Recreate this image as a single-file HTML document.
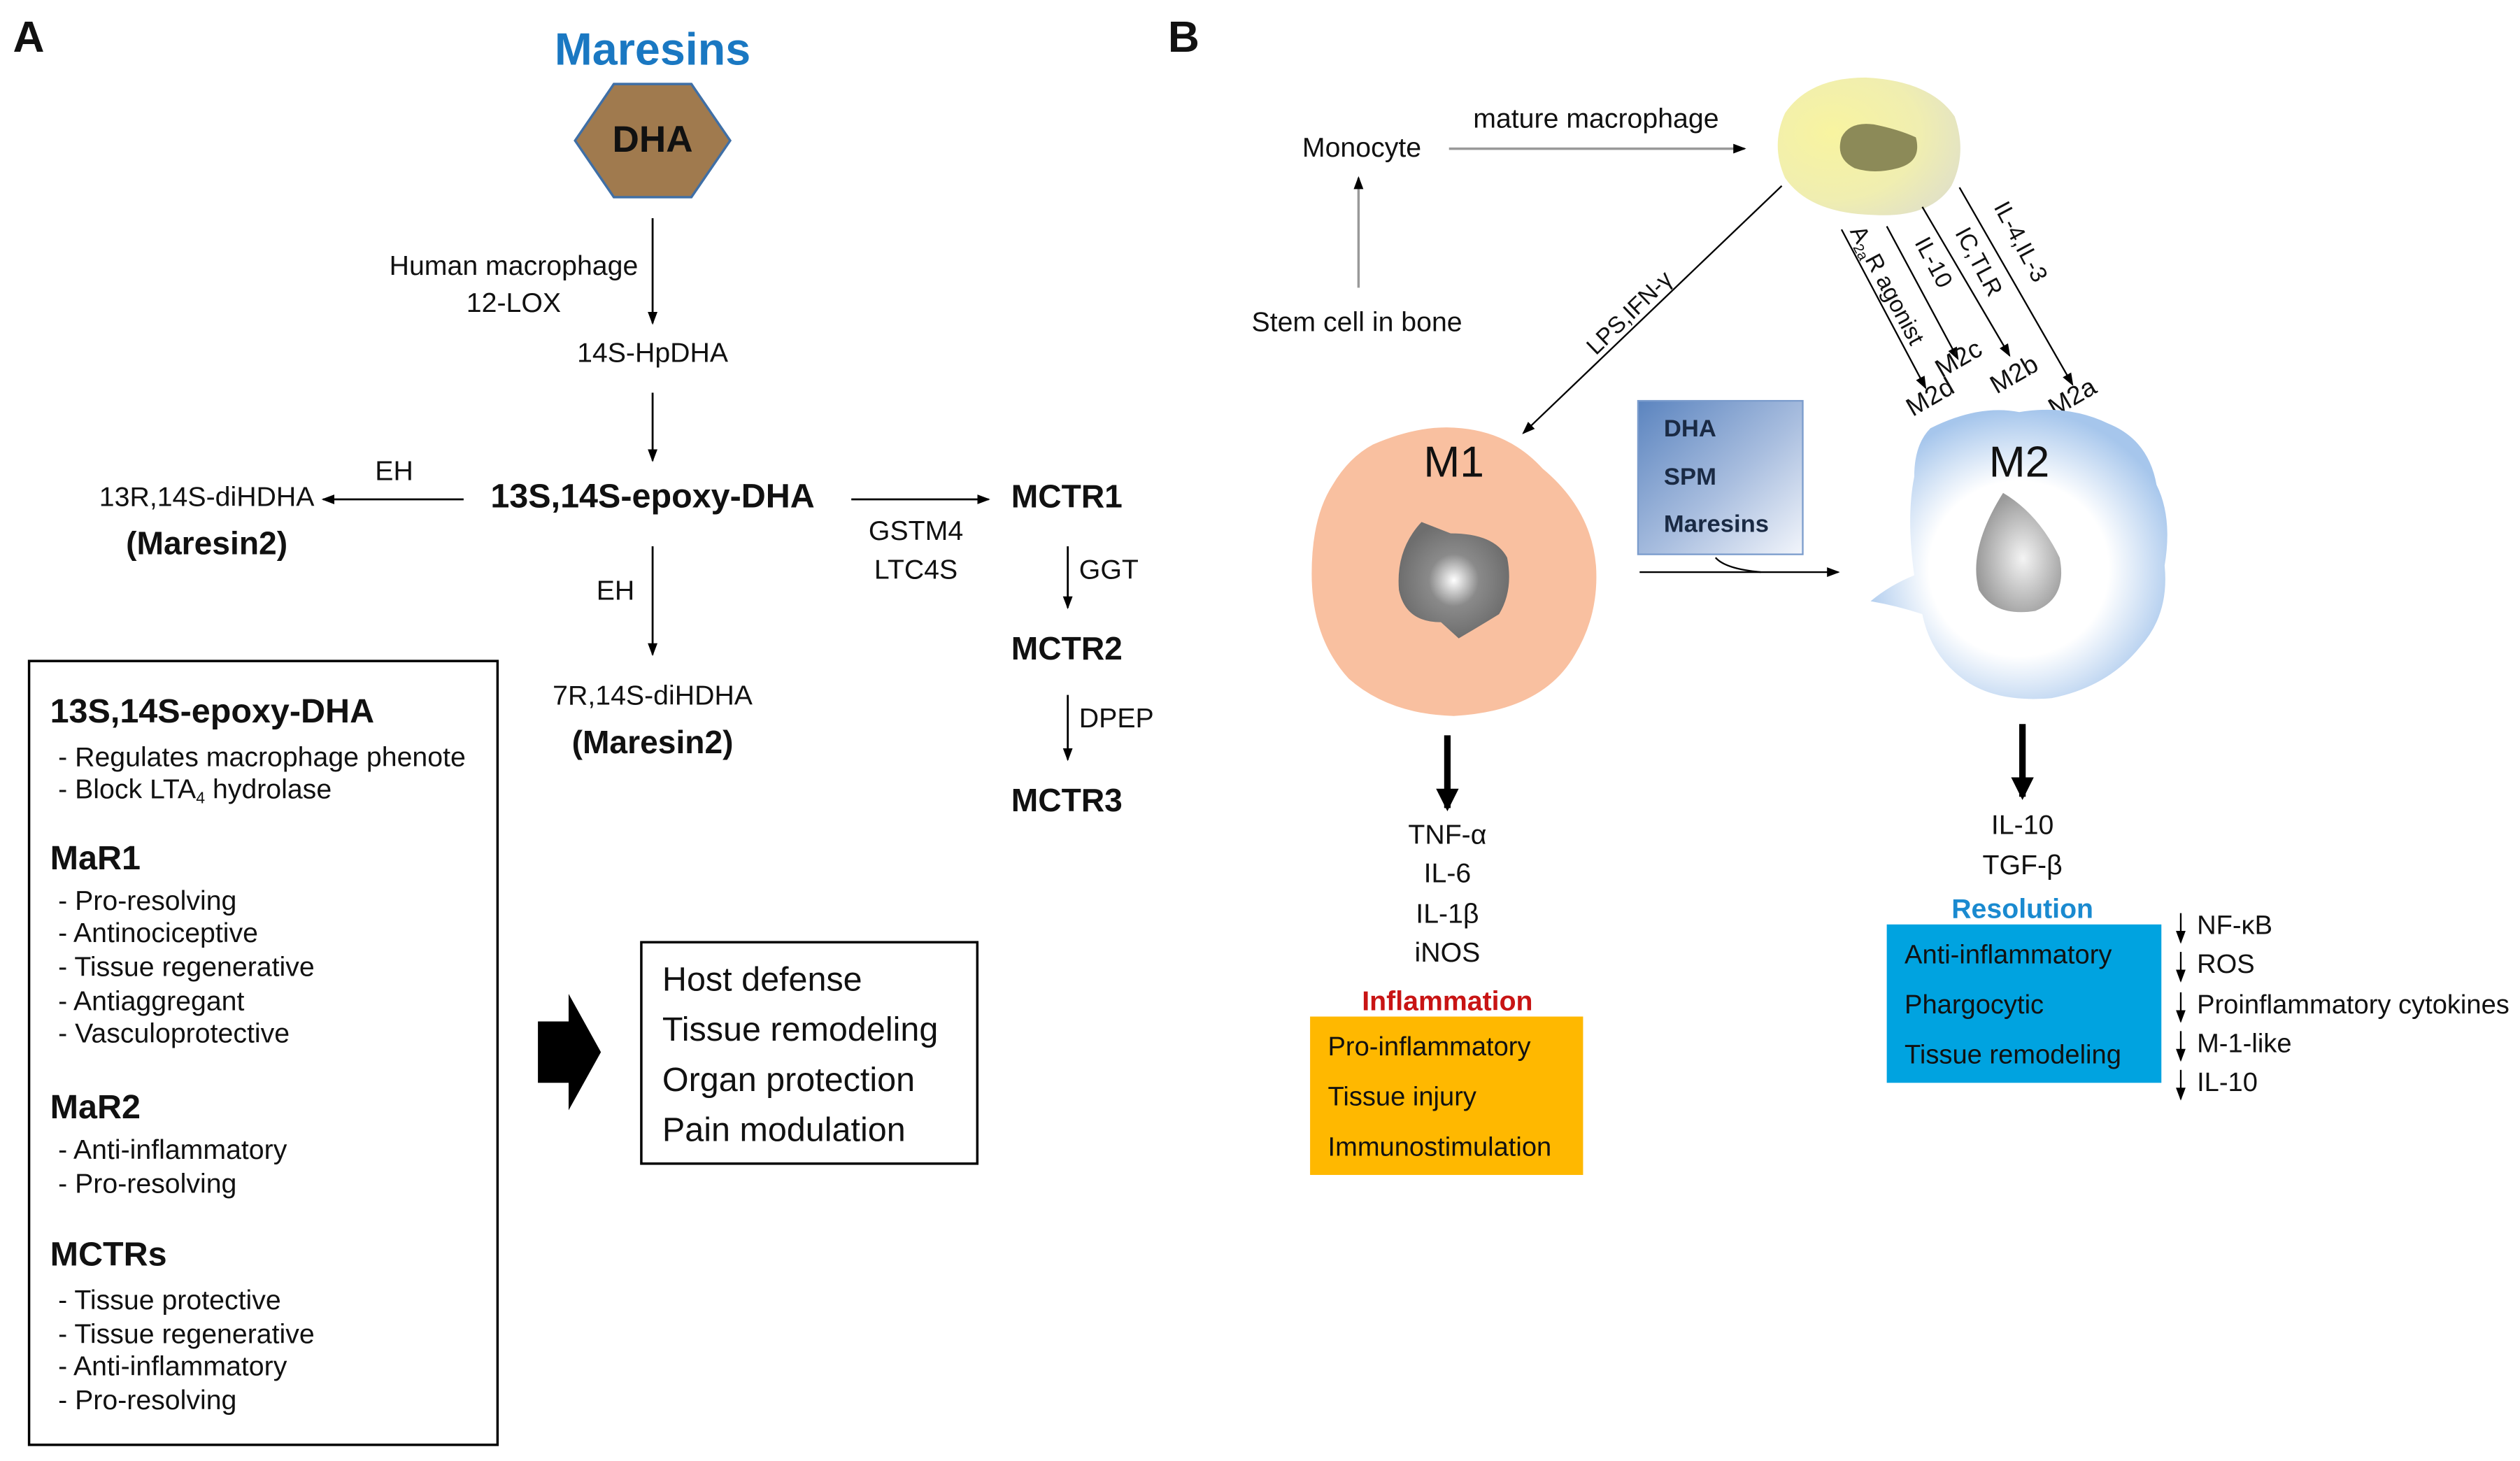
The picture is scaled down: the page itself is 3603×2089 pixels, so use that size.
<!DOCTYPE html>
<html><head><meta charset="utf-8"><style>
html,body{margin:0;padding:0;background:#fff}
svg{display:block}
text{font-family:"Liberation Sans",Arial,sans-serif;fill:#111}
</style></head><body>
<svg width="3603" height="2089" viewBox="0 0 1560 904" preserveAspectRatio="none" xmlns="http://www.w3.org/2000/svg">
<defs>
<marker id="ah" markerWidth="8" markerHeight="8" refX="7" refY="4" orient="auto" markerUnits="userSpaceOnUse"><path d="M0,1 L8,4 L0,7 z" fill="#000"/></marker>
<marker id="ahg" markerWidth="8" markerHeight="8" refX="7" refY="4" orient="auto" markerUnits="userSpaceOnUse"><path d="M0,1 L8,4 L0,7 z" fill="#000"/></marker>
<marker id="ahb" markerWidth="14" markerHeight="14" refX="12" refY="7" orient="auto" markerUnits="userSpaceOnUse"><path d="M0,0 L14,7 L0,14 z" fill="#000"/></marker>
<radialGradient id="yc" cx="0.3" cy="0.4" r="0.8"><stop offset="0" stop-color="#f8f4a0"/><stop offset="0.6" stop-color="#f0eeb0"/><stop offset="1" stop-color="#e0e0c8"/></radialGradient>
<radialGradient id="nuc1" cx="0.5" cy="0.5" r="0.5"><stop offset="0" stop-color="#fff"/><stop offset="0.45" stop-color="#8a8a8a"/><stop offset="1" stop-color="#6e6e6e"/></radialGradient>
<radialGradient id="m2g" cx="0.5" cy="0.55" r="0.55"><stop offset="0" stop-color="#fff"/><stop offset="0.55" stop-color="#fff"/><stop offset="1" stop-color="#a6c6ec"/></radialGradient>
<radialGradient id="nuc2" cx="0.55" cy="0.55" r="0.55"><stop offset="0" stop-color="#f4f4f4"/><stop offset="1" stop-color="#9a9a9a"/></radialGradient>
<linearGradient id="boxg" x1="0" y1="0" x2="1" y2="1"><stop offset="0" stop-color="#5b84bf"/><stop offset="0.55" stop-color="#a9bedf"/><stop offset="1" stop-color="#f2f5fb"/></linearGradient>
</defs>

<!-- Panel A -->
<text x="8" y="32" font-size="27" font-weight="bold">A</text>
<text x="404" y="40" font-size="28" font-weight="bold" text-anchor="middle" style="fill:#1a78c2">Maresins</text>
<polygon points="356,87 380,52 428,52 452,87 428,122 380,122" fill="#a07a4e" stroke="#3f6fa6" stroke-width="1.5"/>
<text x="404" y="94" font-size="23" font-weight="bold" text-anchor="middle">DHA</text>
<line x1="404" y1="135" x2="404" y2="200" stroke="#000" stroke-width="1.2" marker-end="url(#ah)"/>
<text x="318" y="170" font-size="17" text-anchor="middle">Human macrophage</text>
<text x="318" y="193" font-size="17" text-anchor="middle">12-LOX</text>
<text x="404" y="224" font-size="17" text-anchor="middle">14S-HpDHA</text>
<line x1="404" y1="243" x2="404" y2="285" stroke="#000" stroke-width="1.2" marker-end="url(#ah)"/>
<text x="404" y="314" font-size="21" font-weight="bold" text-anchor="middle">13S,14S-epoxy-DHA</text>
<line x1="287" y1="309" x2="200" y2="309" stroke="#000" stroke-width="1.2" marker-end="url(#ah)"/>
<text x="244" y="297" font-size="17" text-anchor="middle">EH</text>
<text x="128" y="313" font-size="17" text-anchor="middle">13R,14S-diHDHA</text>
<text x="128" y="343" font-size="20" font-weight="bold" text-anchor="middle">(Maresin2)</text>
<line x1="527" y1="309" x2="612" y2="309" stroke="#000" stroke-width="1.2" marker-end="url(#ah)"/>
<text x="626" y="314" font-size="20" font-weight="bold">MCTR1</text>
<text x="567" y="334" font-size="17" text-anchor="middle">GSTM4</text>
<text x="567" y="358" font-size="17" text-anchor="middle">LTC4S</text>
<line x1="404" y1="338" x2="404" y2="405" stroke="#000" stroke-width="1.2" marker-end="url(#ah)"/>
<text x="381" y="371" font-size="17" text-anchor="middle">EH</text>
<text x="404" y="436" font-size="17" text-anchor="middle">7R,14S-diHDHA</text>
<text x="404" y="466" font-size="20" font-weight="bold" text-anchor="middle">(Maresin2)</text>
<line x1="661" y1="338" x2="661" y2="376" stroke="#000" stroke-width="1.2" marker-end="url(#ah)"/>
<text x="668" y="358" font-size="17">GGT</text>
<text x="626" y="408" font-size="20" font-weight="bold">MCTR2</text>
<line x1="661" y1="430" x2="661" y2="470" stroke="#000" stroke-width="1.2" marker-end="url(#ah)"/>
<text x="668" y="450" font-size="17">DPEP</text>
<text x="626" y="502" font-size="20" font-weight="bold">MCTR3</text>

<rect x="18" y="409" width="290" height="485" fill="none" stroke="#000" stroke-width="1.5"/>
<g font-size="17">
<text x="31" y="447" font-size="21" font-weight="bold">13S,14S-epoxy-DHA</text>
<text x="36" y="474">- Regulates macrophage phenote</text>
<text x="36" y="494">- Block LTA<tspan font-size="10" dy="3">4</tspan><tspan dy="-3"> hydrolase</tspan></text>
<text x="31" y="538" font-size="21" font-weight="bold">MaR1</text>
<text x="36" y="563">- Pro-resolving</text>
<text x="36" y="583">- Antinociceptive</text>
<text x="36" y="604">- Tissue regenerative</text>
<text x="36" y="625">- Antiaggregant</text>
<text x="36" y="645">- Vasculoprotective</text>
<text x="31" y="692" font-size="21" font-weight="bold">MaR2</text>
<text x="36" y="717">- Anti-inflammatory</text>
<text x="36" y="738">- Pro-resolving</text>
<text x="31" y="783" font-size="21" font-weight="bold">MCTRs</text>
<text x="36" y="810">- Tissue protective</text>
<text x="36" y="831">- Tissue regenerative</text>
<text x="36" y="851">- Anti-inflammatory</text>
<text x="36" y="872">- Pro-resolving</text>
</g>
<polygon points="333,632 352,632 352,615 372,651 352,687 352,670 333,670" fill="#000"/>
<rect x="397" y="583" width="208" height="137" fill="none" stroke="#000" stroke-width="1.5"/>
<g font-size="21">
<text x="410" y="613">Host defense</text>
<text x="410" y="644">Tissue remodeling</text>
<text x="410" y="675">Organ protection</text>
<text x="410" y="706">Pain modulation</text>
</g>

<!-- Panel B -->
<text x="723" y="32" font-size="27" font-weight="bold">B</text>
<text x="843" y="97" font-size="17" text-anchor="middle">Monocyte</text>
<line x1="897" y1="92" x2="1080" y2="92" stroke="#999" stroke-width="1.5" marker-end="url(#ahg)"/>
<text x="988" y="79" font-size="17" text-anchor="middle">mature macrophage</text>
<line x1="841" y1="178" x2="841" y2="110" stroke="#999" stroke-width="1.5" marker-end="url(#ahg)"/>
<text x="840" y="205" font-size="17" text-anchor="middle">Stem cell in bone</text>

<path d="M1105,70 Q1120,48 1155,48 Q1195,50 1210,72 Q1218,95 1208,115 Q1195,135 1160,133 Q1120,132 1105,110 Q1096,90 1105,70z" fill="url(#yc)"/>
<path d="M1140,85 Q1145,75 1160,77 Q1175,80 1186,85 Q1190,100 1175,104 Q1160,108 1148,104 Q1136,98 1140,85z" fill="#8c8a58"/>

<line x1="1103" y1="115" x2="943" y2="268" stroke="#000" stroke-width="1" marker-end="url(#ah)"/>
<text transform="translate(1012,197) rotate(-44)" font-size="14.5" text-anchor="middle">LPS,IFN-γ</text>

<g stroke="#000" stroke-width="1">
<line x1="1140" y1="142" x2="1192" y2="240" marker-end="url(#ah)"/>
<line x1="1168" y1="140" x2="1212" y2="222" marker-end="url(#ah)"/>
<line x1="1190" y1="128" x2="1244" y2="220" marker-end="url(#ah)"/>
<line x1="1213" y1="116" x2="1283" y2="238" marker-end="url(#ah)"/>
</g>
<g font-size="14.5">
<text transform="translate(1145,143) rotate(62)">A<tspan font-size="9" dy="3">2a</tspan><tspan dy="-3">R agonist</tspan></text>
<text transform="translate(1185,150) rotate(62)">IL-10</text>
<text transform="translate(1210,144) rotate(62)">IC,TLR</text>
<text transform="translate(1234,128) rotate(62)">IL-4,IL-3</text>
<text transform="translate(1184,258) rotate(-30)" font-size="16">M2d</text>
<text transform="translate(1202,234) rotate(-30)" font-size="16">M2c</text>
<text transform="translate(1236,244) rotate(-30)" font-size="16">M2b</text>
<text transform="translate(1272,258) rotate(-30)" font-size="16">M2a</text>
</g>

<!-- M1 -->
<path d="M850,275 Q880,262 905,265 Q935,268 955,290 Q985,315 988,350 Q990,380 975,405 Q955,440 900,443 Q860,442 835,420 Q812,395 812,355 Q812,320 825,300 Q835,283 850,275z" fill="#f9c0a0"/>
<text x="900" y="295" font-size="27" text-anchor="middle">M1</text>
<path d="M880,323 L898,330 Q925,330 933,345 Q937,365 928,380 Q915,388 903,395 L892,385 Q870,385 866,365 Q864,340 880,323z" fill="url(#nuc1)"/>

<rect x="1014" y="248" width="102" height="95" fill="url(#boxg)" stroke="#7b9ccc" stroke-width="1"/>
<g font-size="15" font-weight="bold">
<text x="1030" y="270" style="fill:#1a2a44">DHA</text>
<text x="1030" y="300" style="fill:#1a2a44">SPM</text>
<text x="1030" y="329" style="fill:#1a2a44">Maresins</text>
</g>
<line x1="1015" y1="354" x2="1138" y2="354" stroke="#000" stroke-width="1" marker-end="url(#ah)"/>
<path d="M1062,345 Q1068,352 1090,354" fill="none" stroke="#000" stroke-width="1"/>

<!-- M2 -->
<path d="M1195,265 Q1225,250 1250,255 Q1280,250 1305,262 Q1330,272 1335,300 Q1345,320 1340,350 Q1343,380 1325,400 Q1305,425 1270,432 Q1235,435 1215,420 Q1195,405 1190,380 Q1175,375 1158,372 Q1170,362 1185,356 Q1180,320 1185,295 Q1185,275 1195,265z" fill="url(#m2g)"/>
<text x="1250" y="295" font-size="27" text-anchor="middle">M2</text>
<path d="M1240,305 Q1262,318 1275,345 Q1280,370 1260,378 Q1235,382 1225,365 Q1218,340 1240,305z" fill="url(#nuc2)"/>

<line x1="896" y1="455" x2="896" y2="500" stroke="#000" stroke-width="4" marker-end="url(#ahb)"/>
<line x1="1252" y1="448" x2="1252" y2="493" stroke="#000" stroke-width="4" marker-end="url(#ahb)"/>

<g font-size="17" text-anchor="middle">
<text x="896" y="522">TNF-α</text>
<text x="896" y="546">IL-6</text>
<text x="896" y="571">IL-1β</text>
<text x="896" y="595">iNOS</text>
<text x="896" y="625" font-weight="bold" style="fill:#c81414">Inflammation</text>
<text x="1252" y="516">IL-10</text>
<text x="1252" y="541">TGF-β</text>
<text x="1252" y="568" font-weight="bold" style="fill:#1a8ad0">Resolution</text>
</g>
<rect x="811" y="629" width="169" height="98" fill="#ffb800"/>
<g font-size="16.5">
<text x="822" y="653">Pro-inflammatory</text>
<text x="822" y="684">Tissue injury</text>
<text x="822" y="715">Immunostimulation</text>
</g>
<rect x="1168" y="572" width="170" height="98" fill="#00a3e0"/>
<g font-size="16.5">
<text x="1179" y="596">Anti-inflammatory</text>
<text x="1179" y="627">Phargocytic</text>
<text x="1179" y="658">Tissue remodeling</text>
</g>
<g stroke="#000" stroke-width="1">
<line x1="1350" y1="565" x2="1350" y2="583" marker-end="url(#ah)"/>
<line x1="1350" y1="589" x2="1350" y2="607" marker-end="url(#ah)"/>
<line x1="1350" y1="614" x2="1350" y2="632" marker-end="url(#ah)"/>
<line x1="1350" y1="638" x2="1350" y2="656" marker-end="url(#ah)"/>
<line x1="1350" y1="662" x2="1350" y2="680" marker-end="url(#ah)"/>
</g>
<g font-size="16.5">
<text x="1360" y="578">NF-κB</text>
<text x="1360" y="602">ROS</text>
<text x="1360" y="627">Proinflammatory cytokines</text>
<text x="1360" y="651">M-1-like</text>
<text x="1360" y="675">IL-10</text>
</g>
</svg>
</body></html>
